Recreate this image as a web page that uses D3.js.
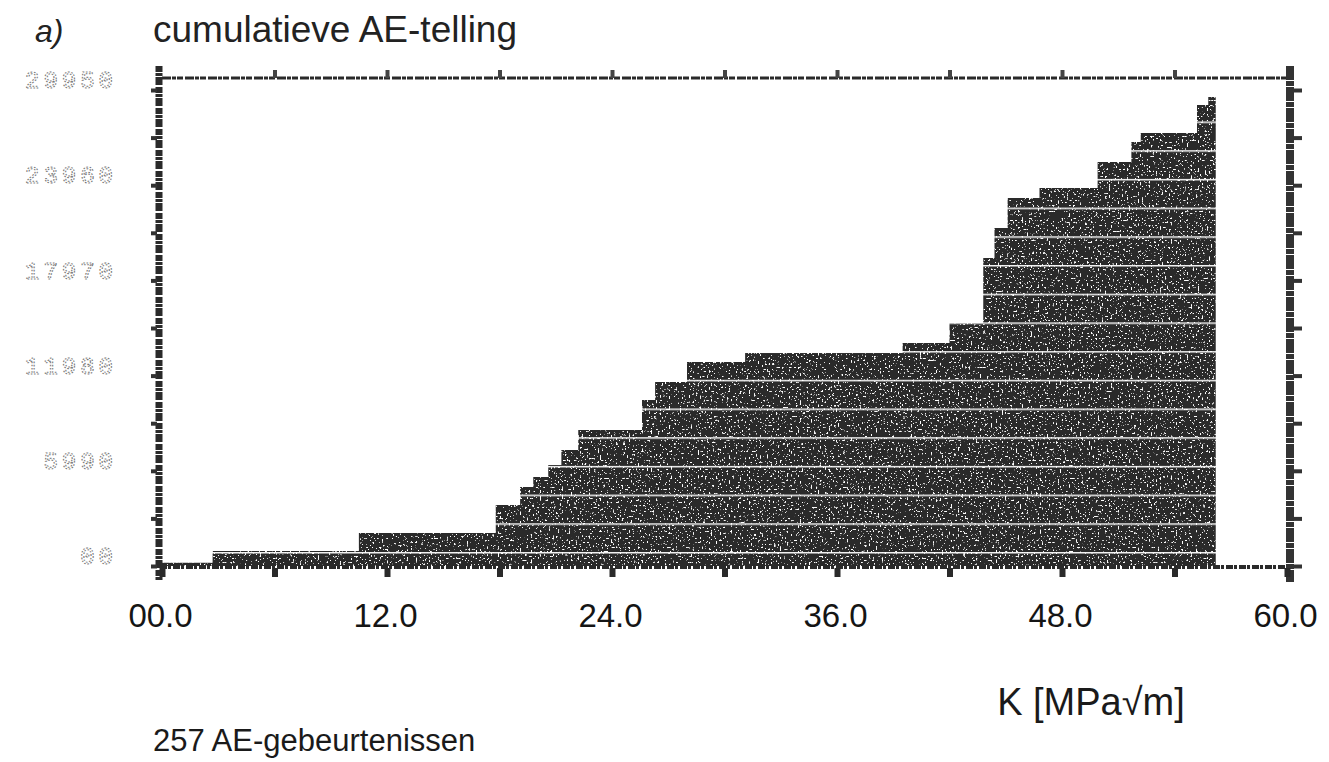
<!DOCTYPE html>
<html>
<head>
<meta charset="utf-8">
<script src="https://cdn.jsdelivr.net/npm/d3@7"></script>
<style>
  body { margin: 0; background: #fff; }
  text { font-family: "Liberation Sans", Arial, sans-serif; }
</style>
</head>
<body>
<div id="chart"></div>
<script>
// step start positions K [MPa√m] and cumulative AE count reached at that step
var kSteps = [0, 2.7, 10.5, 17.8, 19.1, 19.8, 20.6, 21.3, 22.2, 25.6, 26.3, 28.0, 31.1,
              39.5, 42.0, 43.8, 44.4, 45.1, 46.8, 49.9, 51.7, 52.2, 55.2, 55.8, 56.2];
var aeCounts = [200, 940, 2080, 3840, 4970, 5600, 6360, 7300, 8560, 10450, 11580, 12840, 13400,
                14030, 15290, 19380, 21270, 23160, 23780, 25420, 26680, 27240, 29010, 29510, 29510];
var xTicks = [0, 12, 24, 36, 48, 60];
var yTicks = [0, 5990, 11980, 17970, 23960, 29950];
var panelLabel = "a)";
var title = "cumulatieve AE-telling";
var xTitle = "K [MPa√m]";
var note = "257 AE-gebeurtenissen";

var width = 1329, height = 762;
var frameTop = 78;

var svg = d3.select("#chart").append("svg")
  .attr("width", width).attr("height", height)
  .style("background", "#fff");

var x = d3.scaleLinear().domain([0, 60]).range([162, 1287]);
var y = d3.scaleLinear().domain([0, 29950]).range([566, 90]);

var data = kSteps.map(function(k, i) { return { k: k, v: aeCounts[i] }; });

// printer banding + speckle look of the filled area
var defs = svg.append("defs");
var pat = defs.append("pattern").attr("id", "band")
  .attr("patternUnits", "userSpaceOnUse")
  .attr("width", 10).attr("height", 28.7)
  .attr("patternTransform", "translate(0,6.7)");
pat.append("rect").attr("width", 10).attr("height", 28.7).attr("fill", "#2b2b2b");
pat.append("rect").attr("y", 0).attr("width", 10).attr("height", 1.5).attr("fill", "#f2f2f2");

var f = defs.append("filter").attr("id", "speckle")
  .attr("x", 0).attr("y", 0).attr("width", "100%").attr("height", "100%");
f.append("feTurbulence").attr("type", "fractalNoise").attr("baseFrequency", 0.55)
  .attr("numOctaves", 1).attr("seed", 4).attr("result", "noise");
f.append("feColorMatrix").attr("in", "noise").attr("type", "matrix")
  .attr("values", "0 0 0 0 1  0 0 0 0 1  0 0 0 0 1  14 0 0 0 -8.7").attr("result", "dots");
f.append("feComposite").attr("in", "dots").attr("in2", "SourceGraphic")
  .attr("operator", "in").attr("result", "clipped");
var fm = f.append("feMerge");
fm.append("feMergeNode").attr("in", "SourceGraphic");
fm.append("feMergeNode").attr("in", "clipped");

// the cumulative step area
var area = d3.area()
  .curve(d3.curveStepAfter)
  .x(function(d) { return x(d.k); })
  .y0(y(0))
  .y1(function(d) { return y(d.v); });

svg.append("path")
  .datum(data)
  .attr("d", area)
  .attr("fill", "url(#band)")
  .attr("filter", "url(#speckle)");

// frame
var ink = "#2a2a2a";
svg.append("line")
  .attr("x1", x(0)).attr("x2", x(60) + 3)
  .attr("y1", frameTop).attr("y2", frameTop)
  .attr("stroke", ink).attr("stroke-width", 3)
  .attr("stroke-dasharray", "9 1 4 1 6 2");
svg.append("line")
  .attr("x1", x(0) - 2).attr("x2", x(60))
  .attr("y1", y(0) + 1).attr("y2", y(0) + 1)
  .attr("stroke", ink).attr("stroke-width", 4)
  .attr("stroke-dasharray", "7 1 3 2");
svg.append("line")
  .attr("x1", x(0) - 3).attr("x2", x(0) - 3)
  .attr("y1", frameTop - 12).attr("y2", y(0) + 14)
  .attr("stroke", ink).attr("stroke-width", 7)
  .attr("stroke-dasharray", "6 1 3 1 8 2");
svg.append("line")
  .attr("x1", x(60) + 3).attr("x2", x(60) + 3)
  .attr("y1", frameTop - 12).attr("y2", y(0) + 16)
  .attr("stroke", "#333").attr("stroke-width", 8)
  .attr("stroke-dasharray", "14 1 5 1");

// minor tick marks
var xMinor = d3.range(0, 61, 6);
var yMinor = d3.range(0, 29951, 2995);

svg.append("g")
  .attr("transform", "translate(0," + (y(0) + 2) + ")")
  .call(d3.axisBottom(x).tickValues(xMinor).tickSize(9).tickFormat(""))
  .call(function(g) { g.select(".domain").remove(); })
  .selectAll("line").attr("stroke", ink).attr("stroke-width", 6);

svg.append("g")
  .attr("transform", "translate(0," + frameTop + ")")
  .call(d3.axisTop(x).tickValues(xMinor.slice(1, -1)).tickSize(8).tickFormat(""))
  .call(function(g) { g.select(".domain").remove(); })
  .selectAll("line").attr("stroke", "#444").attr("stroke-width", 4);

svg.append("g")
  .attr("transform", "translate(" + (x(0) - 5) + ",0)")
  .call(d3.axisLeft(y).tickValues(yMinor).tickSize(6).tickFormat(""))
  .call(function(g) { g.select(".domain").remove(); })
  .selectAll("line").attr("stroke", "#333").attr("stroke-width", 4);

svg.append("g")
  .attr("transform", "translate(" + (x(60) + 6) + ",0)")
  .call(d3.axisRight(y).tickValues(yMinor).tickSize(9).tickFormat(""))
  .call(function(g) { g.select(".domain").remove(); })
  .selectAll("line").attr("stroke", "#333").attr("stroke-width", 4);

// x tick labels
var xAxis = svg.append("g")
  .attr("transform", "translate(0," + y(0) + ")")
  .call(d3.axisBottom(x).tickValues(xTicks).tickSize(0).tickPadding(38)
    .tickFormat(function(d) { return d === 0 ? "00.0" : d3.format(".1f")(d); }));
xAxis.select(".domain").remove();
xAxis.selectAll("text")
  .attr("dx", -2)
  .style("font-family", "'Liberation Sans', Arial, sans-serif")
  .style("font-size", "33px")
  .attr("fill", "#151515");

// y tick labels (dotted printer style)
var yAxis = svg.append("g")
  .attr("transform", "translate(117,0)")
  .call(d3.axisLeft(y).tickValues(yTicks).tickSize(0).tickPadding(0)
    .tickFormat(function(d) { return d === 0 ? "00" : d; }));
yAxis.select(".domain").remove();
yAxis.selectAll("text")
  .attr("dy", "-0.1em")
  .style("font-family", "'Liberation Mono', monospace")
  .style("font-size", "24px")
  .style("letter-spacing", "4px")
  .attr("fill", "none")
  .attr("stroke", "#777")
  .attr("stroke-width", 1.1)
  .attr("stroke-dasharray", "1.6 1.6");

// texts
svg.append("text")
  .attr("x", 35).attr("y", 42)
  .style("font-size", "32px").style("font-style", "italic")
  .attr("fill", "#222")
  .text(panelLabel);

svg.append("text")
  .attr("x", 153).attr("y", 42)
  .style("font-size", "37px")
  .attr("fill", "#222")
  .text(title);

svg.append("text")
  .attr("x", 1091).attr("y", 715)
  .attr("text-anchor", "middle")
  .style("font-size", "38px")
  .attr("fill", "#1a1a1a")
  .text(xTitle);

svg.append("text")
  .attr("x", 153).attr("y", 751)
  .style("font-size", "31px")
  .attr("fill", "#1a1a1a")
  .text(note);
</script>
</body>
</html>
